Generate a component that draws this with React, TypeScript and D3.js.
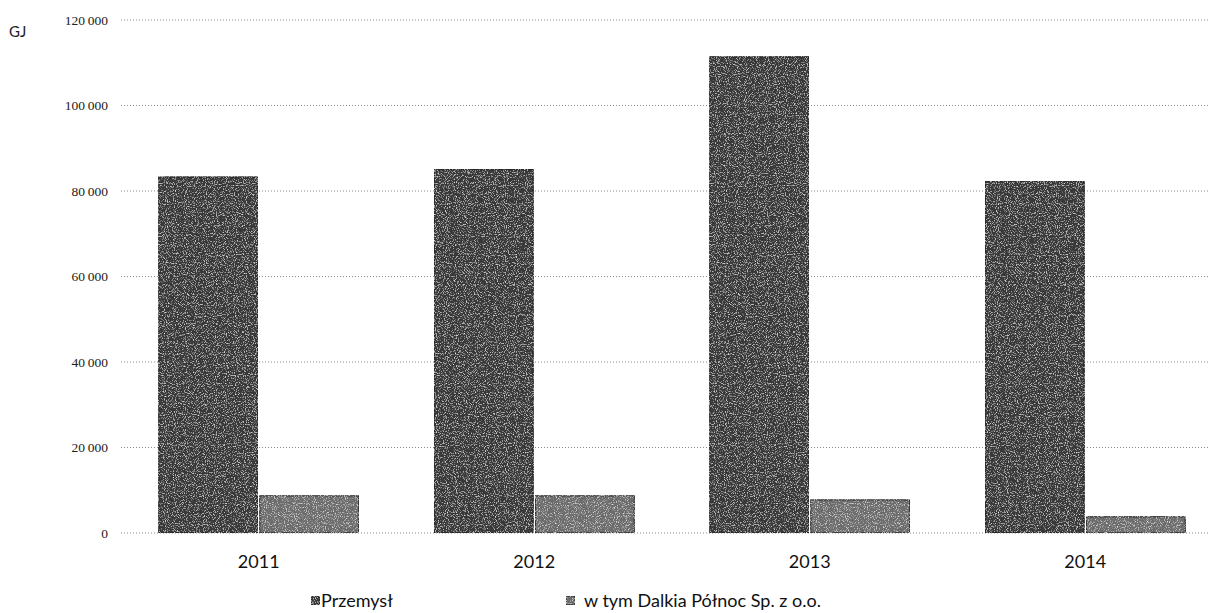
import React from "react";
import * as d3 from "d3";

const years = ["2011", "2012", "2013", "2014"];
const przemysl = [83300, 85000, 111400, 82300];
const dalkia = [8700, 8700, 7750, 3800];
const seriesNames = ["Przemysł", "w tym Dalkia Północ Sp. z o.o."];
const yTicks = [0, 20000, 40000, 60000, 80000, 100000, 120000];
const unitLabel = "GJ";

const W = 1211;
const H = 613;
const plotLeft = 121;
const plotRight = 1223;
const gridRight = 1208;
const plotTop = 20;
const plotBottom = 533;

const fmt = (v: number) =>
  v === 0 ? "0" : d3.format(",")(v).replace(/,/g, "\u2009");

export default function App() {
  const x = d3
    .scaleBand<string>()
    .domain(years)
    .range([plotLeft, plotRight])
    .paddingInner(0.274)
    .paddingOuter(0.137);
  const inner = d3
    .scaleBand<string>()
    .domain(["a", "b"])
    .range([0, x.bandwidth()])
    .paddingInner(0.02);
  const y = d3.scaleLinear().domain([0, 120000]).range([plotBottom, plotTop]);

  const colors = ["#383838", "#6c6c6c"];
  const series = [przemysl, dalkia];

  return (
    <svg
      width={W}
      height={H}
      style={{ position: "absolute", left: 0, top: 0, background: "#fff" }}
    >
      <defs>
        <filter id="grain" x="0" y="0" width="100%" height="100%">
          <feTurbulence type="fractalNoise" baseFrequency="0.9" numOctaves="2" seed="3" result="noise" />
          <feColorMatrix
            in="noise"
            type="matrix"
            values="0 0 0 0 1  0 0 0 0 1  0 0 0 0 1  0 0 0 2.2 -1.15"
            result="speck"
          />
          <feComposite in="speck" in2="SourceGraphic" operator="in" result="sp" />
          <feMerge>
            <feMergeNode in="SourceGraphic" />
            <feMergeNode in="sp" />
          </feMerge>
        </filter>
      </defs>
      <rect width={W} height={H} fill="#fff" />
      {yTicks.map((t) => (
        <g key={t}>
          <line
            x1={plotLeft}
            x2={gridRight}
            y1={y(t)}
            y2={y(t)}
            stroke="#8a8a8a"
            strokeWidth={1}
            strokeDasharray="1,2"
          />
          <text
            x={108}
            y={y(t)}
            dy="0.35em"
            textAnchor="end"
            fontFamily="'Liberation Serif', 'DejaVu Serif', serif"
            fontSize={13.5}
            fill="#222"
          >
            {fmt(t)}
          </text>
        </g>
      ))}
      <text x={9} y={37} fontFamily="Lato, 'Open Sans', sans-serif" fontSize={15} fill="#222">
        {unitLabel}
      </text>
      {years.map((yr, i) => (
        <g key={yr} transform={`translate(${x(yr)},0)`}>
          {series.map((s, j) => (
            <rect
              key={j}
              x={inner(j === 0 ? "a" : "b")}
              y={y(s[i])}
              width={inner.bandwidth()}
              height={y(0) - y(s[i])}
              fill={colors[j]}
              stroke="#1a1a1a"
              strokeWidth={1}
              filter="url(#grain)"
            />
          ))}
          <text
            x={x.bandwidth() / 2}
            y={568}
            textAnchor="middle"
            fontFamily="Lato, 'Open Sans', sans-serif"
            fontSize={18}
            fill="#111"
          >
            {yr}
          </text>
        </g>
      ))}
      {[
        { x: 311, gap: 10, name: seriesNames[0] },
        { x: 566, gap: 18, name: seriesNames[1] },
      ].map((l, j) => (
        <g key={j}>
          <rect x={l.x} y={596} width={9} height={9} fill={colors[j]} stroke="#1a1a1a" strokeWidth={0.8} filter="url(#grain)" />
          <text
            x={l.x + l.gap}
            y={607}
            fontFamily="Lato, 'Open Sans', sans-serif"
            fontSize={18}
            fill="#111"
          >
            {l.name}
          </text>
        </g>
      ))}
    </svg>
  );
}
